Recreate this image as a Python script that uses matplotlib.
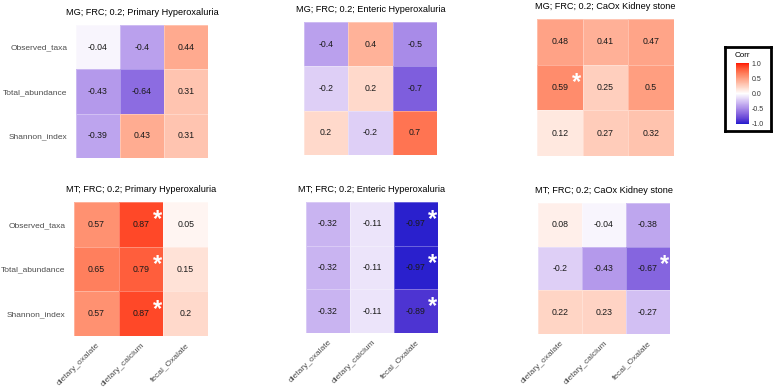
import numpy as np
import matplotlib
matplotlib.use("Agg")
import matplotlib.pyplot as plt
from matplotlib.colors import ListedColormap, Normalize
import matplotlib.cm as cm

plt.rcParams['font.family'] = ['Liberation Sans', 'DejaVu Sans']

rows = ["Observed_taxa", "Total_abundance", "Shannon_index"]
cols = ["dietary_oxalate", "dietary_calcium", "fecal_Oxalate"]

titles = [
    "MG; FRC; 0.2; Primary Hyperoxaluria",
    "MG; FRC; 0.2; Enteric Hyperoxaluria",
    "MG; FRC; 0.2; CaOx Kidney stone",
    "MT; FRC; 0.2; Primary Hyperoxaluria",
    "MT; FRC; 0.2; Enteric Hyperoxaluria",
    "MT; FRC; 0.2; CaOx Kidney stone",
]

mg_ph = [[-0.04, -0.4, 0.44], [-0.43, -0.64, 0.31], [-0.39, 0.43, 0.31]]
mg_eh = [[-0.4, 0.4, -0.5], [-0.2, 0.2, -0.7], [0.2, -0.2, 0.7]]
mg_cks = [[0.48, 0.41, 0.47], [0.59, 0.25, 0.5], [0.12, 0.27, 0.32]]
mt_ph = [[0.57, 0.87, 0.05], [0.65, 0.79, 0.15], [0.57, 0.87, 0.2]]
mt_eh = [[-0.32, -0.11, -0.97], [-0.32, -0.11, -0.97], [-0.32, -0.11, -0.89]]
mt_cks = [[0.08, -0.04, -0.38], [-0.2, -0.43, -0.67], [0.22, 0.23, -0.27]]

# significance markers (row, col)
sig_mg_ph = []
sig_mg_eh = []
sig_mg_cks = [(1, 0)]
sig_mt_ph = [(0, 1), (1, 1), (2, 1)]
sig_mt_eh = [(0, 2), (1, 2), (2, 2)]
sig_mt_cks = [(1, 2)]

datas = [mg_ph, mg_eh, mg_cks, mt_ph, mt_eh, mt_cks]
sigs = [sig_mg_ph, sig_mg_eh, sig_mg_cks, sig_mt_ph, sig_mt_eh, sig_mt_cks]

# ---- Lab-interpolated diverging palette (blue - white - red) ----
def srgb_to_lin(c):
    c = np.asarray(c, float)
    return np.where(c <= 0.04045, c / 12.92, ((c + 0.055) / 1.055) ** 2.4)

def lin_to_srgb(c):
    c = np.clip(c, 0, 1)
    return np.where(c <= 0.0031308, 12.92 * c, 1.055 * c ** (1 / 2.4) - 0.055)

M = np.array([[0.4124, 0.3576, 0.1805], [0.2126, 0.7152, 0.0722], [0.0193, 0.1192, 0.9505]])
Minv = np.linalg.inv(M)
WP = np.array([0.95047, 1.0, 1.08883])

def f(t):
    d = 6 / 29
    return np.where(t > d ** 3, np.cbrt(t), t / (3 * d * d) + 4 / 29)

def finv(t):
    d = 6 / 29
    return np.where(t > d, t ** 3, 3 * d * d * (t - 4 / 29))

def rgb2lab(rgb):
    xyz = M @ srgb_to_lin(rgb) / WP
    fx, fy, fz = f(xyz)
    return np.array([116 * fy - 16, 500 * (fx - fy), 200 * (fy - fz)])

def lab2rgb(lab):
    L, a, b = lab
    fy = (L + 16) / 116
    fx = fy + a / 500
    fz = fy - b / 200
    xyz = np.array([finv(fx), finv(fy), finv(fz)]) * WP
    return lin_to_srgb(Minv @ xyz)

blue = rgb2lab([0.10, 0.10, 0.80]); white = rgb2lab([1, 1, 1]); red = rgb2lab([1, 0.05, 0.0])
N = 256
cols_list = []
for v in np.linspace(-1, 1, N):
    if v < 0:
        lab = white + (blue - white) * (-v)
    else:
        lab = white + (red - white) * v
    cols_list.append(np.clip(lab2rgb(lab), 0, 1))
cmap = ListedColormap(cols_list)
norm = Normalize(-1, 1)

W, H = 774, 391
fig = plt.figure(figsize=(W / 100, H / 100), dpi=100)

# axes boxes in pixels: (x0, y0, x1, y1)
boxes = [
    (76, 25, 208, 158),
    (304, 22, 437, 155),
    (537, 19, 674, 156),
    (74, 202, 208, 336),
    (306, 202, 438, 333),
    (538, 203, 670, 334),
]

for i, (data, sig, title, box) in enumerate(zip(datas, sigs, titles, boxes)):
    x0, y0, x1, y1 = box
    ax = fig.add_axes([x0 / W, 1 - y1 / H, (x1 - x0) / W, (y1 - y0) / H])
    arr = np.array(data)
    ax.pcolormesh(np.arange(4) - 0.5, np.arange(4) - 0.5, arr, cmap=cmap, norm=norm,
                  edgecolor=(1, 1, 1, 0.3), linewidth=0.4)
    ax.set_xlim(-0.5, 2.5)
    ax.set_ylim(2.5, -0.5)
    for r in range(3):
        for c in range(3):
            v = arr[r, c]
            ax.text(c, r, f"{v:g}", ha="center", va="center", fontsize=6.3, color="#1a1a1a")
    for (r, c) in sig:
        ax.text(c + 0.37, r - 0.1, "*", ha="center", va="center", fontsize=17,
                color="white", fontweight="bold")
    for s in ax.spines.values():
        s.set_visible(False)
    ax.tick_params(length=0, pad=6)
    ax.set_xticks(range(3))
    ax.set_yticks(range(3))
    if i % 3 == 0:
        ax.set_yticklabels(rows, fontsize=6.0, color="#4d4d4d")
    else:
        ax.set_yticklabels([])
    if i >= 3:
        ax.set_xticklabels(cols, fontsize=6.0, color="#4d4d4d", rotation=45,
                           ha="right", va="top", rotation_mode="anchor")
        ax.tick_params(axis="x", pad=4)
    else:
        ax.set_xticklabels([])
    ax.set_title(title, fontsize=6.6, color="black", pad=7)

# legend box
lx0, ly0, lx1, ly1 = 725, 47, 771, 131
frame = fig.add_axes([lx0 / W, 1 - ly1 / H, (lx1 - lx0) / W, (ly1 - ly0) / H])
frame.set_xticks([]); frame.set_yticks([])
for s in frame.spines.values():
    s.set_linewidth(2)
    s.set_color("black")
frame.patch.set_facecolor("white")
frame.text(0.22, 0.9, "Corr", fontsize=5.8, transform=frame.transAxes, va="center", ha="left")

cx0, cy0, cx1, cy1 = 736, 63, 749, 124
cax = fig.add_axes([cx0 / W, 1 - cy1 / H, (cx1 - cx0) / W, (cy1 - cy0) / H])
cb = fig.colorbar(cm.ScalarMappable(norm=norm, cmap=cmap), cax=cax, ticks=[-1, -0.5, 0, 0.5, 1])
cb.outline.set_visible(False)
cb.ax.set_yticklabels(["-1.0", "-0.5", "0.0", "0.5", "1.0"])
cb.ax.tick_params(labelsize=5, length=0, pad=2, colors="#333333")

fig.savefig("out.png", dpi=100)
